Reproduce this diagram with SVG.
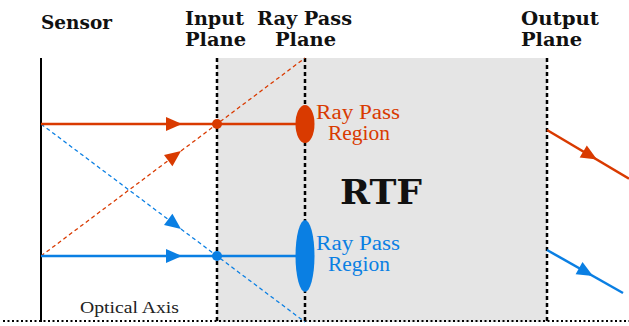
<svg xmlns="http://www.w3.org/2000/svg" xmlns:xlink="http://www.w3.org/1999/xlink" width="629" height="326" viewBox="0 0 629 326">
<style>
.head{font-family:"DejaVu Serif","Liberation Serif",serif;font-weight:bold;font-size:18px;fill:#111}
.lab{font-family:"Liberation Serif","DejaVu Serif",serif;font-size:20px}
.plane{stroke:#000;stroke-width:2.5;stroke-dasharray:4 3;fill:none}
.ray{stroke-width:2.5;fill:none}
.dray{stroke-width:1.3;stroke-dasharray:4 3;fill:none}
.red{stroke:#d93a00}
.blue{stroke:#0a7fe3}
.fr{fill:#d93a00}
.fb{fill:#0a7fe3}
</style>
<defs>
<path id="ah" d="M0,0 L-16,-7 L-16,7 Z"/>
</defs>
<rect width="629" height="326" fill="#fff"/>
<g id="rtf">
<rect x="217" y="58" width="330" height="264" fill="#e5e5e5"/>
<text x="381" y="204" text-anchor="middle" font-family="DejaVu Serif, Liberation Serif, serif" font-weight="bold" font-size="34" textLength="82" lengthAdjust="spacingAndGlyphs" fill="#111">RTF</text>
</g>
<g id="sensor">
<line x1="41" y1="58" x2="41" y2="322" stroke="#000" stroke-width="2"/>
<text class="head" x="41" y="29" textLength="71" lengthAdjust="spacingAndGlyphs">Sensor</text>
</g>
<g id="input-plane">
<line class="plane" x1="217" y1="58" x2="217" y2="322"/>
<text class="head" x="185" y="25" textLength="59" lengthAdjust="spacingAndGlyphs">Input</text>
<text class="head" x="185" y="46" textLength="61" lengthAdjust="spacingAndGlyphs">Plane</text>
</g>
<g id="ray-pass-plane">
<line class="plane" x1="305" y1="58" x2="305" y2="322"/>
<text class="head" x="257" y="25" textLength="95" lengthAdjust="spacingAndGlyphs">Ray Pass</text>
<text class="head" x="275" y="46" textLength="61" lengthAdjust="spacingAndGlyphs">Plane</text>
</g>
<g id="output-plane">
<line class="plane" x1="547" y1="58" x2="547" y2="322"/>
<text class="head" x="521" y="25" textLength="78" lengthAdjust="spacingAndGlyphs">Output</text>
<text class="head" x="521" y="46" textLength="61" lengthAdjust="spacingAndGlyphs">Plane</text>
</g>
<g id="optical-axis">
<line x1="3" y1="321" x2="629" y2="321" stroke="#000" stroke-width="2" stroke-dasharray="2 2.5"/>
<text x="80" y="313" font-family="Liberation Serif, serif" font-size="17" textLength="99" lengthAdjust="spacingAndGlyphs" fill="#222">Optical Axis</text>
</g>
<g id="connectors">
<line class="dray red" x1="41" y1="256" x2="305" y2="58"/>
<line class="dray blue" x1="41" y1="124" x2="305" y2="322"/>
<line class="ray red" x1="41" y1="124" x2="305" y2="124"/>
<line class="ray blue" x1="41" y1="256" x2="305" y2="256"/>
<line class="ray red" x1="547" y1="130" x2="629" y2="178.6"/>
<line class="ray blue" x1="547" y1="250" x2="623" y2="293"/>
<use xlink:href="#ah" class="fr" transform="translate(182,124)"/>
<use xlink:href="#ah" class="fb" transform="translate(182,256)"/>
<use xlink:href="#ah" class="fr" transform="translate(181,151) rotate(-36.87)"/>
<use xlink:href="#ah" class="fb" transform="translate(181,229) rotate(36.87)"/>
<use xlink:href="#ah" class="fr" transform="translate(597,159.6) rotate(30.7)"/>
<use xlink:href="#ah" class="fb" transform="translate(593,276) rotate(29.5)"/>
<circle cx="217" cy="124" r="5" class="fr"/>
<circle cx="217" cy="256" r="5" class="fb"/>
</g>
<g id="red-region">
<ellipse cx="305" cy="124" rx="9.5" ry="19" class="fr"/>
<text class="lab fr" x="358" y="119" text-anchor="middle" textLength="84" lengthAdjust="spacingAndGlyphs">Ray Pass</text>
<text class="lab fr" x="359" y="140" text-anchor="middle" textLength="62" lengthAdjust="spacingAndGlyphs">Region</text>
</g>
<g id="blue-region">
<ellipse cx="305" cy="256" rx="9.5" ry="36" class="fb"/>
<text class="lab fb" x="358" y="250" text-anchor="middle" textLength="84" lengthAdjust="spacingAndGlyphs">Ray Pass</text>
<text class="lab fb" x="359" y="271" text-anchor="middle" textLength="62" lengthAdjust="spacingAndGlyphs">Region</text>
</g>
</svg>
